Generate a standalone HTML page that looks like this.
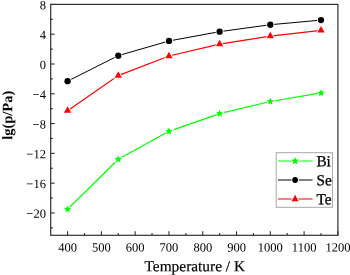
<!DOCTYPE html>
<html><head><meta charset="utf-8"><style>
html,body{margin:0;padding:0;background:#fff;width:350px;height:275px;overflow:hidden;}
text{stroke:#000;stroke-width:0px;}
.lg{stroke-width:0.3px;}
svg{display:block;font-family:"Liberation Serif",serif;fill:#000;will-change:transform;}
</style></head><body>
<svg width="350" height="275" viewBox="0 0 350 275">
<polyline points="67.59,209.23 118.28,159.33 168.96,131.32 219.64,113.59 270.32,101.53 321.01,92.96" fill="none" stroke="#00ff00" stroke-width="1.2"/>
<polyline points="67.59,81.19 118.28,55.64 168.96,40.97 219.64,31.66 270.32,24.73 321.01,20.12" fill="none" stroke="#000000" stroke-width="1.0"/>
<polyline points="67.59,110.69 118.28,75.61 168.96,56.02 219.64,44.10 270.32,36.06 321.01,30.39" fill="none" stroke="#ff0000" stroke-width="1.2"/>
<polygon points="67.59,205.43 68.67,207.75 71.21,208.06 69.33,209.79 69.83,212.30 67.59,211.05 65.36,212.30 65.86,209.79 63.98,208.06 66.52,207.75" fill="#00ff00" stroke="#fff" stroke-width="1.7" paint-order="stroke"/>
<polygon points="118.28,155.53 119.35,157.85 121.89,158.15 120.01,159.89 120.51,162.40 118.28,161.15 116.04,162.40 116.54,159.89 114.66,158.15 117.20,157.85" fill="#00ff00" stroke="#fff" stroke-width="1.7" paint-order="stroke"/>
<polygon points="168.96,127.52 170.03,129.84 172.57,130.15 170.69,131.88 171.19,134.39 168.96,133.14 166.73,134.39 167.22,131.88 165.34,130.15 167.89,129.84" fill="#00ff00" stroke="#fff" stroke-width="1.7" paint-order="stroke"/>
<polygon points="219.64,109.79 220.71,112.12 223.26,112.42 221.38,114.16 221.87,116.67 219.64,115.42 217.41,116.67 217.91,114.16 216.03,112.42 218.57,112.12" fill="#00ff00" stroke="#fff" stroke-width="1.7" paint-order="stroke"/>
<polygon points="270.32,97.73 271.40,100.05 273.94,100.35 272.06,102.09 272.56,104.60 270.32,103.35 268.09,104.60 268.59,102.09 266.71,100.35 269.25,100.05" fill="#00ff00" stroke="#fff" stroke-width="1.7" paint-order="stroke"/>
<polygon points="321.01,89.16 322.08,91.49 324.62,91.79 322.74,93.52 323.24,96.04 321.01,94.79 318.77,96.04 319.27,93.52 317.39,91.79 319.93,91.49" fill="#00ff00" stroke="#fff" stroke-width="1.7" paint-order="stroke"/>
<circle cx="67.59" cy="81.19" r="3.15" fill="#000000" stroke="#fff" stroke-width="1.7" paint-order="stroke"/>
<circle cx="118.28" cy="55.64" r="3.15" fill="#000000" stroke="#fff" stroke-width="1.7" paint-order="stroke"/>
<circle cx="168.96" cy="40.97" r="3.15" fill="#000000" stroke="#fff" stroke-width="1.7" paint-order="stroke"/>
<circle cx="219.64" cy="31.66" r="3.15" fill="#000000" stroke="#fff" stroke-width="1.7" paint-order="stroke"/>
<circle cx="270.32" cy="24.73" r="3.15" fill="#000000" stroke="#fff" stroke-width="1.7" paint-order="stroke"/>
<circle cx="321.01" cy="20.12" r="3.15" fill="#000000" stroke="#fff" stroke-width="1.7" paint-order="stroke"/>
<polygon points="63.94,112.85 71.24,112.85 67.59,106.36" fill="#ff0000" stroke="#fff" stroke-width="1.7" paint-order="stroke"/>
<polygon points="114.63,77.77 121.93,77.77 118.28,71.28" fill="#ff0000" stroke="#fff" stroke-width="1.7" paint-order="stroke"/>
<polygon points="165.31,58.18 172.61,58.18 168.96,51.69" fill="#ff0000" stroke="#fff" stroke-width="1.7" paint-order="stroke"/>
<polygon points="215.99,46.27 223.29,46.27 219.64,39.77" fill="#ff0000" stroke="#fff" stroke-width="1.7" paint-order="stroke"/>
<polygon points="266.67,38.22 273.97,38.22 270.32,31.72" fill="#ff0000" stroke="#fff" stroke-width="1.7" paint-order="stroke"/>
<polygon points="317.36,32.56 324.66,32.56 321.01,26.06" fill="#ff0000" stroke="#fff" stroke-width="1.7" paint-order="stroke"/>
<rect x="50.7" y="4.4" width="287.2" height="230.9" fill="none" stroke="#303030" stroke-width="1.2"/>
<line x1="67.59" y1="235.3" x2="67.59" y2="231.3" stroke="#303030" stroke-width="1.1"/>
<line x1="84.49" y1="235.3" x2="84.49" y2="233.10000000000002" stroke="#303030" stroke-width="1.1"/>
<line x1="101.38" y1="235.3" x2="101.38" y2="231.3" stroke="#303030" stroke-width="1.1"/>
<line x1="118.28" y1="235.3" x2="118.28" y2="233.10000000000002" stroke="#303030" stroke-width="1.1"/>
<line x1="135.17" y1="235.3" x2="135.17" y2="231.3" stroke="#303030" stroke-width="1.1"/>
<line x1="152.06" y1="235.3" x2="152.06" y2="233.10000000000002" stroke="#303030" stroke-width="1.1"/>
<line x1="168.96" y1="235.3" x2="168.96" y2="231.3" stroke="#303030" stroke-width="1.1"/>
<line x1="185.85" y1="235.3" x2="185.85" y2="233.10000000000002" stroke="#303030" stroke-width="1.1"/>
<line x1="202.75" y1="235.3" x2="202.75" y2="231.3" stroke="#303030" stroke-width="1.1"/>
<line x1="219.64" y1="235.3" x2="219.64" y2="233.10000000000002" stroke="#303030" stroke-width="1.1"/>
<line x1="236.54" y1="235.3" x2="236.54" y2="231.3" stroke="#303030" stroke-width="1.1"/>
<line x1="253.43" y1="235.3" x2="253.43" y2="233.10000000000002" stroke="#303030" stroke-width="1.1"/>
<line x1="270.32" y1="235.3" x2="270.32" y2="231.3" stroke="#303030" stroke-width="1.1"/>
<line x1="287.22" y1="235.3" x2="287.22" y2="233.10000000000002" stroke="#303030" stroke-width="1.1"/>
<line x1="304.11" y1="235.3" x2="304.11" y2="231.3" stroke="#303030" stroke-width="1.1"/>
<line x1="321.01" y1="235.3" x2="321.01" y2="233.10000000000002" stroke="#303030" stroke-width="1.1"/>
<line x1="337.90" y1="235.3" x2="337.90" y2="231.3" stroke="#303030" stroke-width="1.1"/>
<line x1="50.7" y1="227.85" x2="52.900000000000006" y2="227.85" stroke="#303030" stroke-width="1.1"/>
<line x1="50.7" y1="212.95" x2="54.7" y2="212.95" stroke="#303030" stroke-width="1.1"/>
<line x1="50.7" y1="198.06" x2="52.900000000000006" y2="198.06" stroke="#303030" stroke-width="1.1"/>
<line x1="50.7" y1="183.16" x2="54.7" y2="183.16" stroke="#303030" stroke-width="1.1"/>
<line x1="50.7" y1="168.26" x2="52.900000000000006" y2="168.26" stroke="#303030" stroke-width="1.1"/>
<line x1="50.7" y1="153.37" x2="54.7" y2="153.37" stroke="#303030" stroke-width="1.1"/>
<line x1="50.7" y1="138.47" x2="52.900000000000006" y2="138.47" stroke="#303030" stroke-width="1.1"/>
<line x1="50.7" y1="123.57" x2="54.7" y2="123.57" stroke="#303030" stroke-width="1.1"/>
<line x1="50.7" y1="108.68" x2="52.900000000000006" y2="108.68" stroke="#303030" stroke-width="1.1"/>
<line x1="50.7" y1="93.78" x2="54.7" y2="93.78" stroke="#303030" stroke-width="1.1"/>
<line x1="50.7" y1="78.88" x2="52.900000000000006" y2="78.88" stroke="#303030" stroke-width="1.1"/>
<line x1="50.7" y1="63.99" x2="54.7" y2="63.99" stroke="#303030" stroke-width="1.1"/>
<line x1="50.7" y1="49.09" x2="52.900000000000006" y2="49.09" stroke="#303030" stroke-width="1.1"/>
<line x1="50.7" y1="34.19" x2="54.7" y2="34.19" stroke="#303030" stroke-width="1.1"/>
<line x1="50.7" y1="19.30" x2="52.900000000000006" y2="19.30" stroke="#303030" stroke-width="1.1"/>
<line x1="50.7" y1="4.40" x2="54.7" y2="4.40" stroke="#303030" stroke-width="1.1"/>
<text transform="translate(67.59,251.4) rotate(0.05)" text-anchor="middle" font-size="12.5">400</text>
<text transform="translate(101.38,251.4) rotate(0.05)" text-anchor="middle" font-size="12.5">500</text>
<text transform="translate(135.17,251.4) rotate(0.05)" text-anchor="middle" font-size="12.5">600</text>
<text transform="translate(168.96,251.4) rotate(0.05)" text-anchor="middle" font-size="12.5">700</text>
<text transform="translate(202.75,251.4) rotate(0.05)" text-anchor="middle" font-size="12.5">800</text>
<text transform="translate(236.54,251.4) rotate(0.05)" text-anchor="middle" font-size="12.5">900</text>
<text transform="translate(270.32,251.4) rotate(0.05)" text-anchor="middle" font-size="12.5">1000</text>
<text transform="translate(304.11,251.4) rotate(0.05)" text-anchor="middle" font-size="12.5">1100</text>
<text transform="translate(337.90,251.4) rotate(0.05)" text-anchor="middle" font-size="12.5">1200</text>
<text transform="translate(45.9,217.85) rotate(0.05)" text-anchor="end" font-size="12.5">−20</text>
<text transform="translate(45.9,188.06) rotate(0.05)" text-anchor="end" font-size="12.5">−16</text>
<text transform="translate(45.9,158.27) rotate(0.05)" text-anchor="end" font-size="12.5">−12</text>
<text transform="translate(45.9,128.47) rotate(0.05)" text-anchor="end" font-size="12.5">−8</text>
<text transform="translate(45.9,98.68) rotate(0.05)" text-anchor="end" font-size="12.5">−4</text>
<text transform="translate(45.9,68.89) rotate(0.05)" text-anchor="end" font-size="12.5">0</text>
<text transform="translate(45.9,39.09) rotate(0.05)" text-anchor="end" font-size="12.5">4</text>
<text transform="translate(45.9,9.30) rotate(0.05)" text-anchor="end" font-size="12.5">8</text>
<text transform="translate(194.8,271.2) rotate(0.05)" text-anchor="middle" font-size="15.4" style="stroke-width:0.2px">Temperature / K</text>
<text transform="translate(12.3,115.3) rotate(-89.95)" text-anchor="middle" font-size="14.5" font-weight="bold" style="stroke-width:0">lg(p/Pa)</text>
<rect x="276.2" y="152.7" width="56.2" height="54.6" fill="#fff" stroke="#a8a8a8" stroke-width="1"/>
<line x1="278" y1="161.0" x2="312.6" y2="161.0" stroke="#00ff00" stroke-width="1"/>
<polygon points="295.10,157.00 296.23,159.45 298.90,159.76 296.93,161.59 297.45,164.24 295.10,162.92 292.75,164.24 293.27,161.59 291.30,159.76 293.97,159.45" fill="#00ff00" stroke="#fff" stroke-width="1.7" paint-order="stroke"/>
<text transform="translate(316.4,166.30) rotate(0.05)" font-size="15.3" class="lg">Bi</text>
<line x1="278" y1="180.0" x2="312.6" y2="180.0" stroke="#000000" stroke-width="1"/>
<circle cx="295.10" cy="180.00" r="2.9" fill="#000000" stroke="#fff" stroke-width="1.7" paint-order="stroke"/>
<text transform="translate(316.4,185.30) rotate(0.05)" font-size="15.3" class="lg">Se</text>
<line x1="278" y1="199.0" x2="312.6" y2="199.0" stroke="#ff0000" stroke-width="1"/>
<polygon points="291.50,201.14 298.70,201.14 295.10,194.73" fill="#ff0000" stroke="#fff" stroke-width="1.7" paint-order="stroke"/>
<text transform="translate(316.4,204.30) rotate(0.05)" font-size="15.3" class="lg">Te</text>
</svg>
</body></html>
